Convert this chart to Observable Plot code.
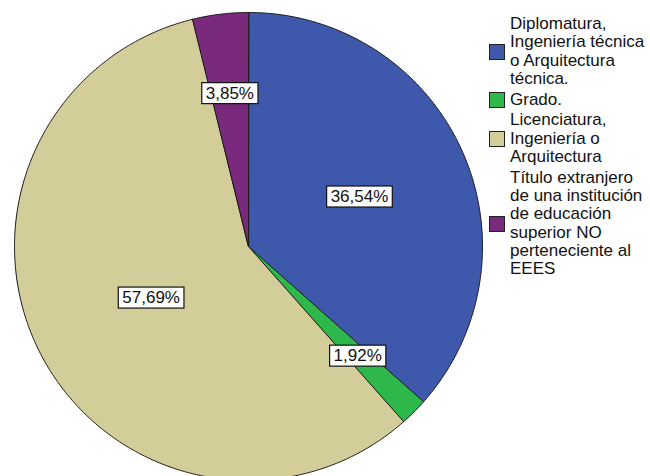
<!DOCTYPE html>
<html><head><meta charset="utf-8">
<script src="https://cdn.jsdelivr.net/npm/d3@7"></script>
<script src="https://cdn.jsdelivr.net/npm/@observablehq/plot@0.6"></script>
<style>
body{margin:0;background:#fff;}
#wrap{position:relative;width:650px;height:476px;overflow:hidden;font-family:"Liberation Sans",Arial,sans-serif;}
#chart{position:absolute;left:0;top:0;}
#legend{position:absolute;left:489px;top:15px;font-size:17px;line-height:18.3px;color:#111;}
.item{display:flex;align-items:center;margin-bottom:2.5px;}
.sw{width:14px;height:14px;border:1px solid #222;margin-right:5px;flex:none;}
</style></head><body><div id="wrap"><div id="chart"></div><div id="legend"></div></div>
<script>
const categories = [
  "Diplomatura, Ingeniería técnica o Arquitectura técnica.",
  "Grado.",
  "Licenciatura, Ingeniería o Arquitectura",
  "Título extranjero de una institución de educación superior NO perteneciente al EEES"
];
const percents = [36.54, 1.92, 57.69, 3.85];
const labels = ["36,54%", "1,92%", "57,69%", "3,85%"];
const colors = ["#3e58ac", "#2eb84c", "#d3ce99", "#7a2a7d"];
const legendLines = [
  ["Diplomatura,", "Ingeniería técnica", "o Arquitectura", "técnica."],
  ["Grado."],
  ["Licenciatura,", "Ingeniería o", "Arquitectura"],
  ["Título extranjero", "de una institución", "de educación", "superior NO", "perteneciente al", "EEES"]
];

// build slice polygons from the data
const total = d3.sum(percents);
const pts = [];
const lab = [];
let acc = 0;
percents.forEach((p, i) => {
  const a0 = acc / total * 2 * Math.PI;
  const a1 = (acc + p) / total * 2 * Math.PI;
  acc += p;
  pts.push({cat: categories[i], x: 0, y: 0});
  const n = Math.max(2, Math.ceil((a1 - a0) / (Math.PI / 360)));
  for (let k = 0; k <= n; k++) {
    const a = a0 + (a1 - a0) * k / n;
    pts.push({cat: categories[i], x: Math.sin(a), y: Math.cos(a)});
  }
  const am = (a0 + a1) / 2;
  const r = p < 5 ? 0.66 : (p > 50 ? 0.47 : 0.52);
  lab.push({text: labels[i], x: r * Math.sin(am), y: r * Math.cos(am)});
});

const plot = Plot.plot({
  width: 650, height: 476, margin: 0,
  style: {background: "transparent"},
  x: {domain: [-1, 1], range: [14, 482], axis: null},
  y: {domain: [-1, 1], range: [480, 12], axis: null},
  color: {domain: categories, range: colors},
  marks: [
    Plot.line(pts, {x: "x", y: "y", z: "cat", fill: "cat", stroke: "#1a1a1a", strokeWidth: 1, curve: "linear-closed"}),
    Plot.text(lab, {x: "x", y: "y", text: "text", fontSize: 17, fill: "#111", fontFamily: "Liberation Sans, Arial, sans-serif", className: "lbl"})
  ]
});
document.getElementById("chart").appendChild(plot);

// white boxes behind labels
plot.querySelectorAll(".lbl text").forEach(t => {
  const b = t.getBBox();
  const rect = document.createElementNS("http://www.w3.org/2000/svg", "rect");
  rect.setAttribute("x", b.x - 4);
  rect.setAttribute("y", b.y - 1);
  rect.setAttribute("width", b.width + 8);
  rect.setAttribute("height", b.height + 2);
  rect.setAttribute("fill", "#fff");
  rect.setAttribute("stroke", "#111");
  rect.setAttribute("stroke-width", 1.2);
  const tr = t.getAttribute("transform");
  if (tr) rect.setAttribute("transform", tr);
  t.parentNode.insertBefore(rect, t);
});

// legend
const leg = document.getElementById("legend");
legendLines.forEach((lines, i) => {
  const item = document.createElement("div");
  item.className = "item";
  const sw = document.createElement("div");
  sw.className = "sw";
  sw.style.background = colors[i];
  const tx = document.createElement("div");
  tx.innerHTML = lines.join("<br>");
  item.appendChild(sw);
  item.appendChild(tx);
  leg.appendChild(item);
});
</script></body></html>
